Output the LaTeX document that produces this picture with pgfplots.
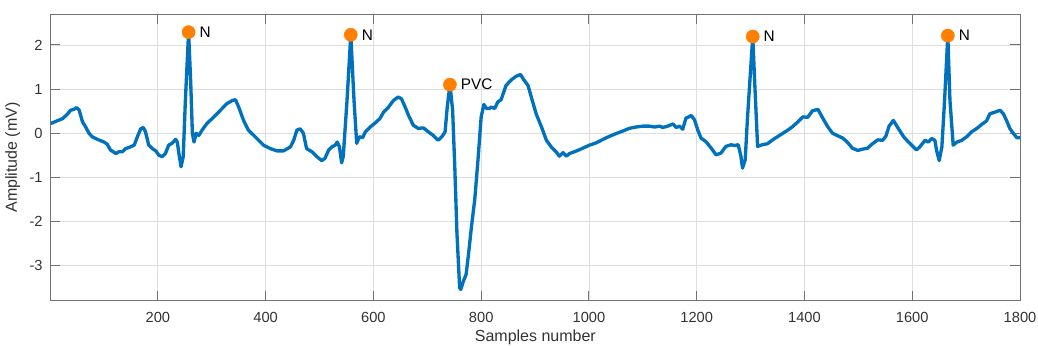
\documentclass[border=0pt]{standalone}
\usepackage{fontspec}
\setmainfont{Liberation Sans}
\usepackage{pgfplots}
\usepackage{pgfplotstable}
\pgfplotsset{compat=1.18}
\definecolor{mblue}{rgb}{0,0.447,0.741}
\definecolor{morange}{rgb}{1,0.5,0}
\pgfplotstableread{
x y
1 0.22
13 0.28
23 0.33
32 0.43
38 0.52
44 0.54
49 0.58
54 0.52
60 0.26
66 0.14
72 0.0
78 -0.08
88 -0.14
100 -0.2
106 -0.25
112 -0.38
122 -0.46
128 -0.42
134 -0.42
140 -0.35
149 -0.31
156 -0.27
162 -0.08
168 0.10
173 0.13
177 0.03
183 -0.27
190 -0.35
196 -0.40
202 -0.50
208 -0.53
214 -0.46
220 -0.27
226 -0.23
233 -0.14
236 -0.20
239 -0.46
243 -0.76
247 -0.53
251 0.74
257 2.29
261 1.12
264 0.0
267 -0.20
271 0.0
276 -0.05
282 0.07
291 0.22
304 0.37
316 0.52
328 0.67
338 0.74
344 0.76
350 0.59
359 0.29
368 0.07
378 -0.05
387 -0.16
396 -0.27
409 -0.35
421 -0.40
433 -0.40
446 -0.31
452 -0.16
458 0.07
464 0.10
470 0.0
476 -0.35
486 -0.42
495 -0.53
504 -0.62
510 -0.57
517 -0.38
523 -0.31
529 -0.27
533 -0.20
537 -0.31
541 -0.67
544 -0.53
551 0.74
558 2.23
564 0.74
569 -0.23
574 -0.08
580 -0.10
585 0.03
594 0.14
603 0.23
612 0.33
619 0.48
628 0.59
637 0.74
646 0.82
652 0.78
659 0.59
665 0.41
674 0.18
683 0.11
693 0.12
702 0.03
711 -0.05
720 -0.16
727 -0.08
733 0.03
737 0.59
742 1.10
747 0.52
751 -0.76
755 -2.26
760 -3.50
762 -3.54
767 -3.35
772 -3.20
776 -2.79
782 -2.11
788 -1.51
794 -0.61
800 0.37
805 0.65
810 0.56
815 0.56
819 0.59
825 0.56
831 0.71
837 0.76
846 1.08
856 1.21
865 1.29
873 1.33
878 1.23
887 1.08
893 0.82
902 0.44
912 0.14
921 -0.16
930 -0.31
939 -0.42
945 -0.52
952 -0.44
958 -0.52
964 -0.46
973 -0.42
983 -0.37
992 -0.32
1001 -0.27
1013 -0.22
1026 -0.14
1038 -0.07
1050 -0.01
1063 0.05
1075 0.11
1087 0.14
1100 0.16
1112 0.16
1122 0.14
1131 0.16
1137 0.13
1146 0.16
1156 0.21
1162 0.13
1168 0.16
1174 0.09
1180 0.34
1190 0.40
1196 0.30
1202 0.07
1208 -0.11
1217 -0.19
1227 -0.34
1236 -0.49
1245 -0.45
1254 -0.30
1264 -0.26
1270 -0.28
1277 -0.26
1282 -0.52
1285 -0.79
1290 -0.60
1294 0.30
1304 2.19
1308 1.05
1313 -0.30
1322 -0.26
1331 -0.24
1341 -0.15
1351 -0.07
1360 0.0
1369 0.07
1378 0.15
1388 0.26
1397 0.37
1406 0.36
1415 0.51
1425 0.54
1434 0.34
1443 0.15
1452 0.0
1462 -0.06
1471 -0.11
1480 -0.21
1489 -0.34
1499 -0.39
1508 -0.36
1517 -0.34
1526 -0.24
1536 -0.15
1545 -0.16
1551 -0.07
1557 0.16
1565 0.29
1574 0.11
1584 -0.08
1593 -0.20
1602 -0.31
1608 -0.38
1614 -0.31
1624 -0.16
1630 -0.20
1636 -0.12
1642 -0.16
1645 -0.38
1650 -0.62
1655 -0.31
1660 0.74
1666 2.21
1670 0.74
1676 -0.27
1683 -0.20
1692 -0.16
1701 -0.08
1710 0.03
1720 0.11
1729 0.20
1738 0.28
1744 0.44
1754 0.48
1763 0.52
1769 0.44
1775 0.29
1781 0.11
1788 -0.01
1794 -0.10
1800 -0.10
}\ecgdata
\pgfplotstableread{
x y label
257 2.29 N
558 2.23 N
742 1.10 PVC
1304 2.19 N
1666 2.21 N
}\beats
\begin{document}
\begin{tikzpicture}
\begin{axis}[
  scale only axis, width=727pt, height=215.25pt,
  xmin=1, xmax=1800, ymin=-3.8, ymax=2.7,
  xtick={200,400,...,1800}, ytick={-3,-2,...,2},
  tick align=inside, major tick length=7.3pt,
  grid=major, major grid style={black!13, line width=0.6pt},
  axis line style={black!55, line width=0.75pt},
  every tick/.style={black!55, line width=0.75pt},
  ticklabel style={font=\fontsize{11}{13}\selectfont, text=black!80},
  /pgf/number format/assume math mode=true,
  /pgf/number format/1000 sep={},
  xticklabel style={yshift=-5pt},
  yticklabel style={xshift=-2.5pt},
  xlabel={Samples number}, ylabel={Amplitude (mV)},
  label style={font=\fontsize{12}{14}\selectfont, text=black!80},
  xlabel style={at={(axis description cs:0.5,0)}, anchor=north, yshift=-18.3pt},
  ylabel style={at={(axis description cs:-0.0265,0.5)}, anchor=south},
]
\addplot[mblue, line width=2.5pt, line join=round, no marks] table[x=x, y=y] {\ecgdata};
\addplot[only marks, mark=*, mark size=4.9pt, mark options={fill=morange, draw=morange},
  nodes near coords, point meta=explicit symbolic, nodes near coords align={horizontal},
  nodes near coords style={anchor=west, xshift=4.7pt, font=\fontsize{11.5}{13}\selectfont, text=black}]
  table[x=x, y=y, meta=label] {\beats};
\end{axis}
\pgfresetboundingbox
\path[use as bounding box] ([xshift=-38pt,yshift=-33.75pt]current axis.south west) rectangle ([xshift=13.5pt,yshift=10.5pt]current axis.north east);
\end{tikzpicture}
\end{document}
